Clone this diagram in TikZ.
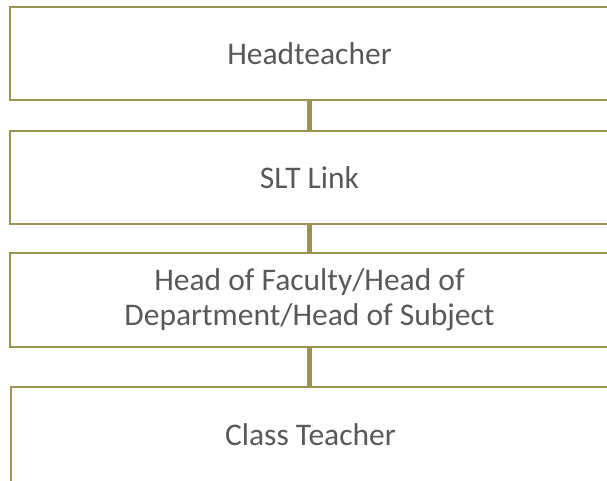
\documentclass[tikz,border=0pt]{standalone}
\usepackage{fontspec}
\setmainfont{Carlito}
\usepackage{tikz}
\usetikzlibrary{positioning}
\definecolor{olivebox}{RGB}{155,147,84}
\definecolor{textgray}{RGB}{89,89,89}

\begin{document}
\begin{tikzpicture}[x=1pt, y=1pt,
    orgbox/.style={draw=olivebox, line width=2.5pt, rectangle, minimum width=599pt, minimum height=93pt, inner sep=0pt, outer sep=0pt, align=center, text=textgray, font=\fontsize{31.5}{35}\selectfont},
    link/.style={olivebox, line width=5pt}]
    \useasboundingbox (0,0) rectangle (607,480);

%cajas

    \node[orgbox] (head) at (309.5,426.5) {Headteacher};
    \node[orgbox] (slt) at (309.5,302.5) {SLT Link};
    \node[orgbox, minimum height=94pt] (hof) at (309.5,180) {Head of Faculty/Head of\\Department/Head of Subject};
    \node[orgbox, minimum height=95pt] (teacher) at (310.5,45.5) {Class Teacher};

    %lineas
    \draw[link] (head.south) -- (slt.north);
    \draw[link] (slt.south) -- (hof.north);
    \draw[link] (hof.south) -- (hof.south |- teacher.north);

  \end{tikzpicture}
\end{document}
